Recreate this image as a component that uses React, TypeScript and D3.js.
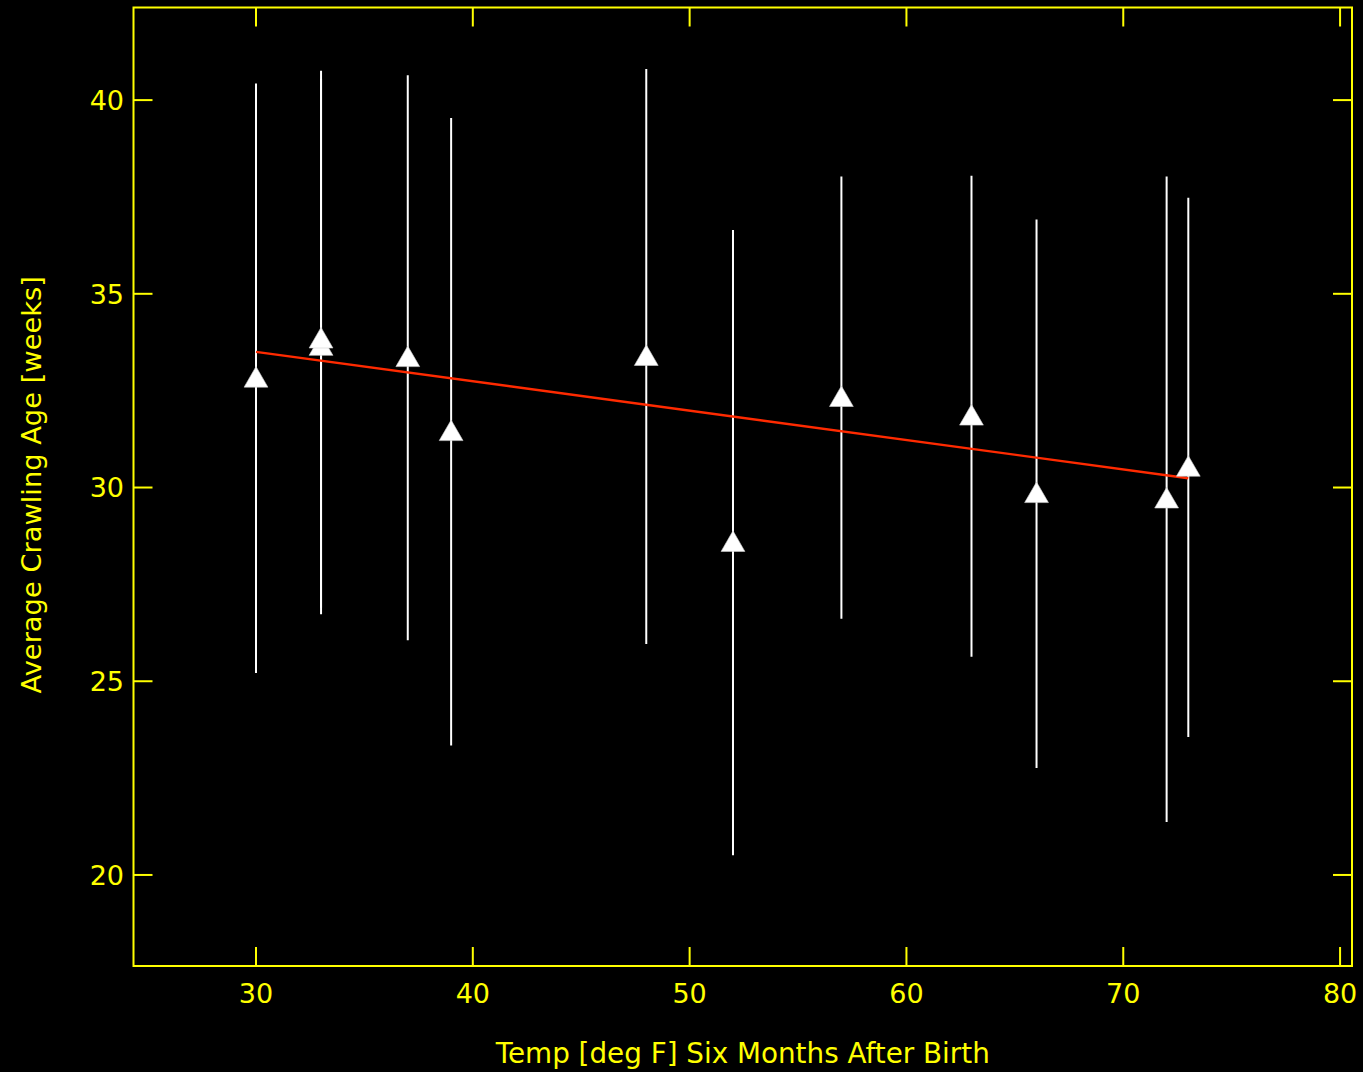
import React from "react";
import * as d3 from "d3";

const temps = [66, 73, 72, 63, 52, 39, 33, 30, 33, 37, 48, 57];
const crawlAge = [29.84, 30.52, 29.70, 31.84, 28.58, 31.44, 33.64, 32.82, 33.83, 33.35, 33.38, 32.32];
const crawlSD = [7.08, 6.96, 8.33, 6.21, 8.07, 8.10, 6.91, 7.61, 6.93, 7.29, 7.42, 5.71];
const fitX = [30, 73];
const fitY = [33.5, 30.24];
const xTicks = [30, 40, 50, 60, 70, 80];
const yTicks = [20, 25, 30, 35, 40];

const W = 1363;
const H = 1072;
const L = 133.5, R = 1352, T = 7.5, B = 966;
const YEL = "#ffff00";
const FONT = "'DejaVu Sans', 'Lucida Grande', sans-serif";

export default function App() {
  const x = d3.scaleLinear().domain([24.35, 80.55]).range([L, R]);
  const y = d3.scaleLinear().domain([17.65, 42.39]).range([B, T]);
  const line = d3.line<number>().x((_, i) => x(fitX[i])).y((d) => y(d));
  const tri = d3.symbol().type(d3.symbolTriangle).size(245)();
  const tk = 19;
  return (
    <svg width={W} height={H} style={{ position: "absolute", left: 0, top: 0, background: "#000" }}>
      <rect x={0} y={0} width={W} height={H} fill="#000" />
      {temps.map((t, i) => (
        <line key={"e" + i} x1={x(t)} x2={x(t)} y1={y(crawlAge[i] + crawlSD[i])} y2={y(crawlAge[i] - crawlSD[i])} stroke="#fff" strokeWidth={2} />
      ))}
      <path d={line(fitY) || ""} stroke="#ff2a00" strokeWidth={2.4} fill="none" />
      {temps.map((t, i) => (
        <g key={"m" + i} transform={`translate(${x(t)},${y(crawlAge[i]) + 2})`}>
          <path d={tri || ""} fill="#ffffff" stroke="#d0d0d0" strokeWidth={0.6} />
        </g>
      ))}
      <rect x={L} y={T} width={R - L} height={B - T} fill="none" stroke={YEL} strokeWidth={2} />
      {xTicks.map((v) => (
        <g key={"x" + v}>
          <line x1={x(v)} x2={x(v)} y1={B} y2={B - tk} stroke={YEL} strokeWidth={2} />
          <line x1={x(v)} x2={x(v)} y1={T} y2={T + tk} stroke={YEL} strokeWidth={2} />
          <text x={x(v)} y={1003} fill={YEL} fontFamily={FONT} fontSize={27} textAnchor="middle">{v}</text>
        </g>
      ))}
      {yTicks.map((v) => (
        <g key={"y" + v}>
          <line x1={L} x2={L + tk} y1={y(v)} y2={y(v)} stroke={YEL} strokeWidth={2} />
          <line x1={R} x2={R - tk} y1={y(v)} y2={y(v)} stroke={YEL} strokeWidth={2} />
          <text x={124} y={y(v)} dy="0.36em" fill={YEL} fontFamily={FONT} fontSize={27} textAnchor="end">{v}</text>
        </g>
      ))}
      <text x={(L + R) / 2} y={1063} fill={YEL} fontFamily={FONT} fontSize={27.8} textAnchor="middle">Temp [deg F] Six Months After Birth</text>
      <text transform={`translate(41,${(T + B) / 2 - 2}) rotate(-90)`} fill={YEL} fontFamily={FONT} fontSize={27.3} textAnchor="middle">Average Crawling Age [weeks]</text>
    </svg>
  );
}
